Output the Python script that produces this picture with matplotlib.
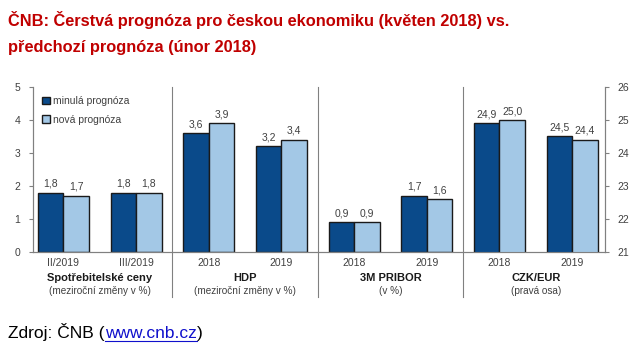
import matplotlib
matplotlib.use("Agg")
import matplotlib.pyplot as plt
from matplotlib.patches import Patch

plt.rcParams['font.family'] = ['Liberation Sans', 'DejaVu Sans']

categories = ["II/2019", "III/2019", "2018", "2019", "2018", "2019", "2018", "2019"]
prev_left = [1.8, 1.8, 3.6, 3.2, 0.9, 1.7]
new_left = [1.7, 1.8, 3.9, 3.4, 0.9, 1.6]
prev_right = [24.9, 24.5]
new_right = [25.0, 24.4]
group_titles = ["Spotřebitelské ceny", "HDP", "3M PRIBOR", "CZK/EUR"]
group_subtitles = ["(meziroční změny v %)", "(meziroční změny v %)", "(v %)", "(pravá osa)"]
legend_labels = ["minulá prognóza", "nová prognóza"]

dark = "#0A4A8A"
light = "#A3C8E6"
edge = "#1A1A1A"
txt = "#404040"

fig = plt.figure(figsize=(6.34, 3.55), dpi=100)
ax = fig.add_axes([0.052, 0.29, 0.902, 0.465])
ax2 = ax.twinx()

w = 0.35
xl = list(range(len(prev_left)))
xr = list(range(len(prev_left), len(categories)))

ax.bar([x - w / 2 for x in xl], prev_left, w, color=dark, edgecolor=edge, linewidth=1)
ax.bar([x + w / 2 for x in xl], new_left, w, color=light, edgecolor=edge, linewidth=1)
ax2.bar([x - w / 2 for x in xr], prev_right, w, color=dark, edgecolor=edge, linewidth=1)
ax2.bar([x + w / 2 for x in xr], new_right, w, color=light, edgecolor=edge, linewidth=1)

def fmt(v):
    return f"{v:.1f}".replace(".", ",")

for x, a, b in zip(xl, prev_left, new_left):
    ax.text(x - w / 2, a + 0.12, fmt(a), ha="center", va="bottom", fontsize=7.5, color=txt)
    ax.text(x + w / 2, b + 0.12, fmt(b), ha="center", va="bottom", fontsize=7.5, color=txt)
for x, a, b in zip(xr, prev_right, new_right):
    ax2.text(x - w / 2, a + 0.12, fmt(a), ha="center", va="bottom", fontsize=7.5, color=txt)
    ax2.text(x + w / 2, b + 0.12, fmt(b), ha="center", va="bottom", fontsize=7.5, color=txt)

ax.set_xlim(-0.42, len(categories) - 0.55)
ax.set_ylim(0, 5)
ax2.set_ylim(21, 26)
ax.set_yticks(range(0, 6))
ax2.set_yticks(range(21, 27))
ax.set_xticks(range(len(categories)))
ax.set_xticklabels(categories, fontsize=7.5, color=txt)
ax.tick_params(axis="x", length=0, pad=4)
ax.tick_params(axis="y", labelsize=7.5, labelcolor=txt, length=3, color="#808080", pad=6)
ax2.tick_params(axis="y", labelsize=7.5, labelcolor=txt, length=3, color="#808080", pad=6)

for a in (ax, ax2):
    a.spines["top"].set_visible(False)
    for s in ("left", "right", "bottom"):
        a.spines[s].set_color("#808080")
        a.spines[s].set_linewidth(0.8)
    a.patch.set_visible(False)

# group separators
for sx in (1.5, 3.5, 5.5):
    ax.plot([sx, sx], [5, -1.37], color="#808080", linewidth=0.8, clip_on=False)

# group titles
for i, (t, s) in enumerate(zip(group_titles, group_subtitles)):
    cx = 2 * i + 0.5
    ax.text(cx, -0.79, t, ha="center", va="center", fontsize=8, fontweight="bold", color="#1A1A1A")
    ax.text(cx, -1.19, s, ha="center", va="center", fontsize=7.2, color=txt)

handles = [Patch(facecolor=dark, edgecolor=edge, label=legend_labels[0]),
           Patch(facecolor=light, edgecolor=edge, label=legend_labels[1])]
ax.legend(handles=handles, loc="upper left", bbox_to_anchor=(0.0, 1.0), frameon=False,
          fontsize=7.5, handlelength=0.7, handleheight=0.7, handletextpad=0.3,
          labelspacing=0.8, labelcolor=txt)

fig.text(0.013, 1 - 26 / 355, "ČNB: Čerstvá prognóza pro českou ekonomiku (květen 2018) vs.",
         ha="left", va="baseline", fontsize=11.8, fontweight="bold", color="#C00000")
fig.text(0.013, 1 - 52 / 355, "předchozí prognóza (únor 2018)",
         ha="left", va="baseline", fontsize=11.8, fontweight="bold", color="#C00000")

yb = 1 - 338 / 355
fs = 12.5
t1 = fig.text(0.013, yb, "Zdroj: ČNB (", ha="left", va="baseline", fontsize=fs, color="black")
fig.canvas.draw()
r = fig.canvas.get_renderer()
bb = t1.get_window_extent(r)
x1 = bb.x1 / fig.bbox.width
t2 = fig.text(x1, yb, "www.cnb.cz", ha="left", va="baseline", fontsize=fs, color="#1010CC")
bb2 = t2.get_window_extent(r)
x2 = bb2.x1 / fig.bbox.width
fig.text(x2, yb, ")", ha="left", va="baseline", fontsize=fs, color="black")
fig.add_artist(plt.Line2D([x1, x2], [yb - 2.5 / 355] * 2, color="#1010CC", linewidth=0.8))

fig.savefig("out.png", dpi=100)
